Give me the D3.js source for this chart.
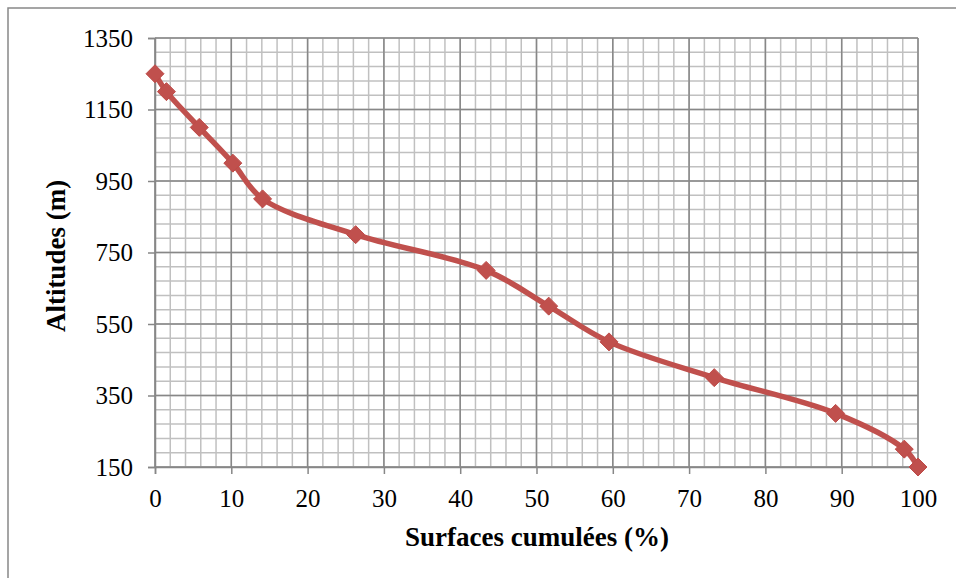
<!DOCTYPE html>
<html>
<head>
<meta charset="utf-8">
<script src="https://cdn.jsdelivr.net/npm/d3@7"></script>
<style>
  html, body { margin: 0; padding: 0; background: #fff; }
  svg { display: block; }
  .tick text { font-family: "Liberation Serif", "Times New Roman", serif; font-size: 25px; fill: #000; }
  .title { font-family: "Liberation Serif", "Times New Roman", serif; font-size: 27px; font-weight: bold; fill: #000; }
</style>
</head>
<body>
<script>
// Hypsometric curve: cumulative surface (%) against altitude (m)
const surfaces = [0, 1.5, 5.8, 10.2, 14.1, 26.3, 43.4, 51.6, 59.5, 73.3, 89.2, 98.2, 100];
const altitudes = [1250, 1200, 1100, 1000, 900, 800, 700, 600, 500, 400, 300, 200, 150];
const xTicks = [0, 10, 20, 30, 40, 50, 60, 70, 80, 90, 100];
const yTicks = [150, 350, 550, 750, 950, 1150, 1350];
const xTitle = "Surfaces cumulées (%)";
const yTitle = "Altitudes (m)";

const W = 956, H = 578;
const plot = { left: 155, right: 918, top: 38, bottom: 467 };

const svg = d3.select("body").append("svg").attr("width", W).attr("height", H);

// Chart area frame
svg.append("rect")
  .attr("x", 8).attr("y", 8).attr("width", W).attr("height", H)
  .attr("fill", "none").attr("stroke", "#888").attr("stroke-width", 1.5);

const x = d3.scaleLinear().domain([0, 100]).range([plot.left, plot.right]);
const y = d3.scaleLinear().domain([150, 1350]).range([plot.bottom, plot.top]);

// Minor grid
const g = svg.append("g");
g.selectAll(".vminor").data(d3.range(0, 101, 2)).join("line")
  .attr("x1", d => x(d)).attr("x2", d => x(d))
  .attr("y1", plot.top).attr("y2", plot.bottom)
  .attr("stroke", "#c0c0c0").attr("stroke-width", 1.5);
g.selectAll(".hminor").data(d3.range(150, 1351, 40)).join("line")
  .attr("y1", d => y(d)).attr("y2", d => y(d))
  .attr("x1", plot.left).attr("x2", plot.right)
  .attr("stroke", "#c0c0c0").attr("stroke-width", 1.5);
// Major grid
g.selectAll(".vmajor").data(xTicks).join("line")
  .attr("x1", d => x(d)).attr("x2", d => x(d))
  .attr("y1", plot.top).attr("y2", plot.bottom)
  .attr("stroke", "#878787").attr("stroke-width", 1.5);
g.selectAll(".hmajor").data(yTicks).join("line")
  .attr("y1", d => y(d)).attr("y2", d => y(d))
  .attr("x1", plot.left).attr("x2", plot.right)
  .attr("stroke", "#878787").attr("stroke-width", 1.5);

// Axes
const xAxis = svg.append("g")
  .attr("transform", `translate(0,${plot.bottom})`)
  .call(d3.axisBottom(x).tickValues(xTicks).tickSize(7).tickPadding(15).tickFormat(d3.format("d")));
const yAxis = svg.append("g")
  .attr("transform", `translate(${plot.left},0)`)
  .call(d3.axisLeft(y).tickValues(yTicks).tickSize(7).tickPadding(15).tickFormat(d3.format("d")));
[xAxis, yAxis].forEach(a => {
  a.select(".domain").attr("stroke", "#878787").attr("stroke-width", 1.5);
  a.selectAll(".tick line").attr("stroke", "#878787").attr("stroke-width", 1.5);
});

// Series
const pts = surfaces.map((s, i) => [x(s), y(altitudes[i])]);
svg.append("path")
  .attr("d", d3.line().curve(d3.curveCatmullRom.alpha(0.5))(pts))
  .attr("fill", "none").attr("stroke", "#c0504d").attr("stroke-width", 5.5)
  .attr("stroke-linejoin", "round");

const r = 9;
svg.selectAll(".marker").data(pts).join("path")
  .attr("d", d => `M${d[0]},${d[1] - r}L${d[0] + r},${d[1]}L${d[0]},${d[1] + r}L${d[0] - r},${d[1]}Z`)
  .attr("fill", "#c0504d").attr("stroke", "#be4b48").attr("stroke-width", 1);

// Titles
svg.append("text").attr("class", "title")
  .attr("x", 537).attr("y", 546).attr("text-anchor", "middle").text(xTitle);
svg.append("text").attr("class", "title")
  .attr("transform", `translate(65,256) rotate(-90)`)
  .attr("text-anchor", "middle").text(yTitle);
</script>
</body>
</html>
